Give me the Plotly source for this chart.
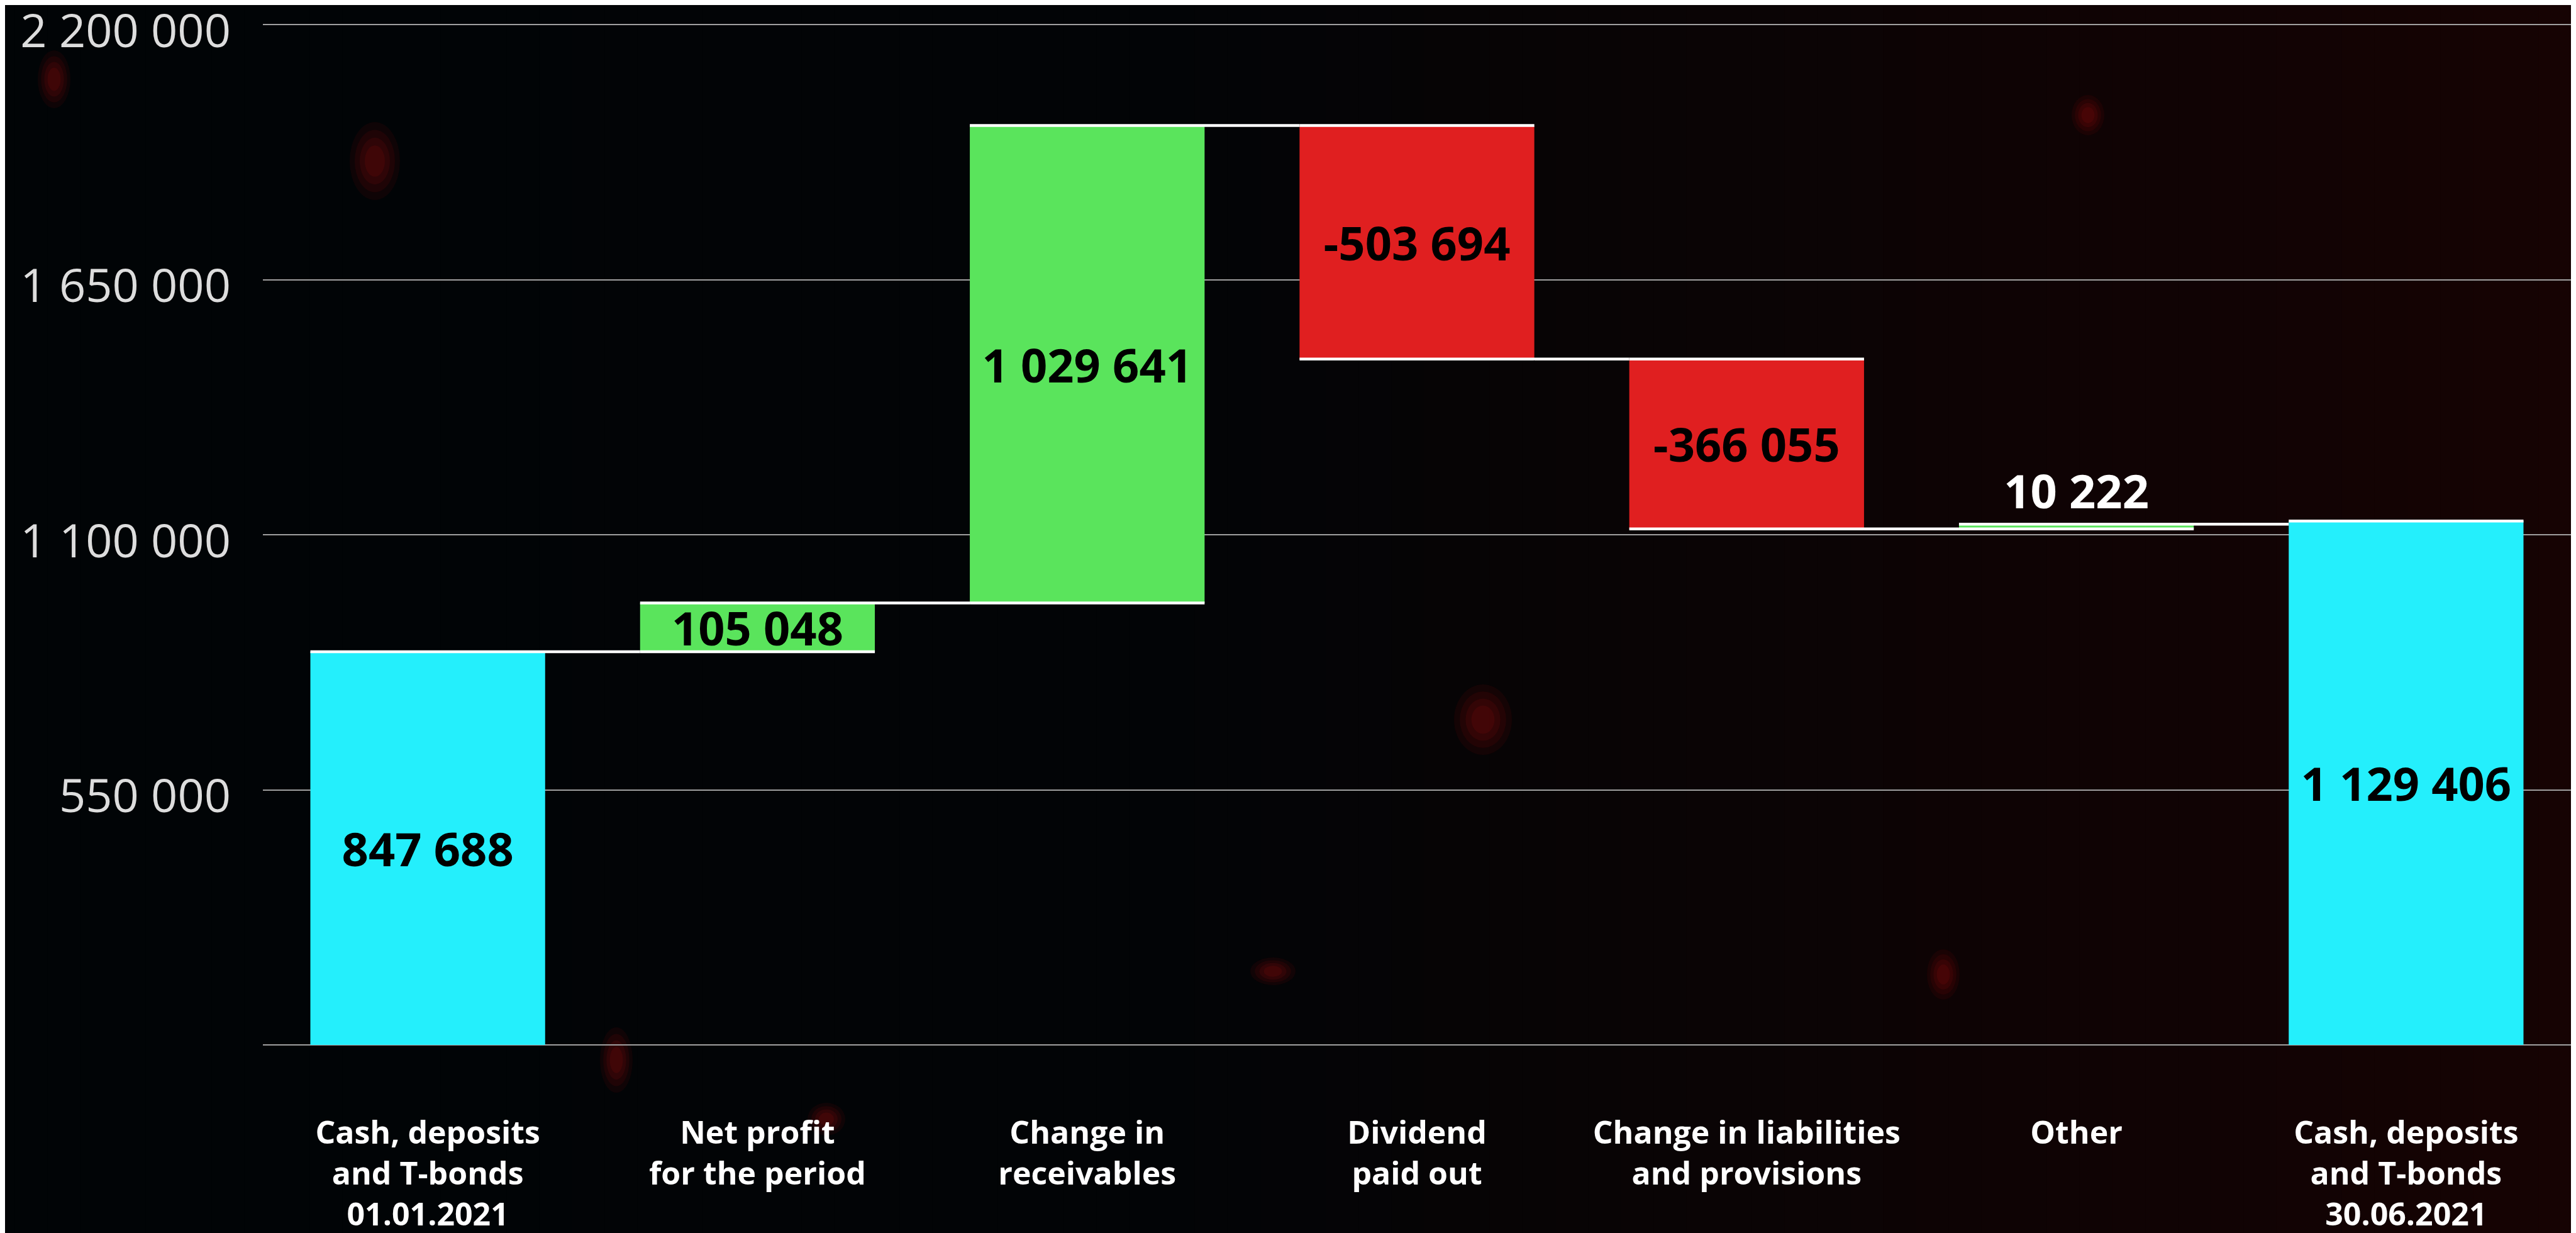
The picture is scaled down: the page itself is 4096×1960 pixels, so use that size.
import plotly.graph_objects as go

# ---- data ----
categories = [
    "Cash, deposits<br>and T-bonds<br>01.01.2021",
    "Net profit<br>for the period",
    "Change in<br>receivables",
    "Dividend<br>paid out",
    "Change in liabilities<br>and provisions",
    "Other",
    "Cash, deposits<br>and T-bonds<br>30.06.2021",
]
values = [847688, 105048, 1029641, -503694, -366055, 10222, 1129406]
measures = ["absolute", "relative", "relative", "relative", "relative", "relative", "absolute"]
text_positions = ["inside", "inside", "inside", "inside", "inside", "outside", "inside"]
y_tickvals = [0, 550000, 1100000, 1650000, 2200000]
y_ticktext = ["", "550 000", "1 100 000", "1 650 000", "2 200 000"]

labels = [f"{v:,}".replace(",", " ") for v in values]

W, H = 4096, 1960
ML, MR, MT, MB = 410, 16, 29, 305
pw, ph = W - ML - MR, H - MT - MB

fig = go.Figure()

fig.add_trace(go.Waterfall(
    x=categories,
    y=values,
    measure=measures,
    text=labels,
    textposition=text_positions,
    insidetextanchor="middle",
    insidetextfont=dict(family="Open Sans", size=74, color="#000000", weight=700),
    outsidetextfont=dict(family="Open Sans", size=74, color="#ffffff", weight=700),
    textfont=dict(family="Open Sans", size=74, weight=700),
    constraintext="none",
    cliponaxis=False,
    increasing=dict(marker=dict(color="#5ae45c", line=dict(width=0))),
    decreasing=dict(marker=dict(color="#e01f20", line=dict(width=0))),
    totals=dict(marker=dict(color="#24effc", line=dict(width=0))),
    connector=dict(mode="spanning", line=dict(color="#ffffff", width=4.5)),
    hoverinfo="skip",
    showlegend=False,
))

# ---- background decoration: gradient strips + faint bokeh blobs ----
shapes = []
n = 80
x0p, x1p = -ML / pw - 0.01, 1 + MR / pw + 0.01
y0p, y1p = -MB / ph - 0.01, 1 + MT / ph + 0.01
def lerp(a, b, t):
    return tuple(int(round(a[i] + (b[i] - a[i]) * t)) for i in range(3))
c_left, c_mid, c_right = (1, 4, 6), (2, 4, 6), (22, 3, 3)
for i in range(n):
    t = i / (n - 1)
    if t < 0.45:
        c = lerp(c_left, c_mid, t / 0.45)
    else:
        c = lerp(c_mid, c_right, (t - 0.45) / 0.55)
    xa = x0p + (x1p - x0p) * i / n
    xb = x0p + (x1p - x0p) * (i + 1) / n + 0.002
    shapes.append(dict(type="rect", xref="paper", yref="paper", x0=xa, x1=xb,
                       y0=y0p, y1=y1p, fillcolor="rgb(%d,%d,%d)" % c,
                       line=dict(width=0), layer="below"))

# blobs given in window pixels (cx, cy, rx, ry)
blobs = [(588, 248, 40, 62), (2350, 1136, 46, 56), (3312, 175, 26, 32),
         (78, 118, 26, 46), (972, 1677, 26, 52), (2016, 1536, 36, 22),
         (3082, 1541, 26, 40), (1306, 1771, 30, 26)]
def px2paper(x, y):
    return (x - ML) / pw, 1 - (y - MT) / ph
for (cx, cy, rx, ry) in blobs:
    for k, (f, a) in enumerate([(1.0, 0.10), (0.8, 0.12), (0.6, 0.14), (0.4, 0.16)]):
        xa, ya = px2paper(cx - rx * f, cy + ry * f)
        xb, yb = px2paper(cx + rx * f, cy - ry * f)
        shapes.append(dict(type="circle", xref="paper", yref="paper",
                           x0=xa, x1=xb, y0=ya, y1=yb,
                           fillcolor="rgba(150,12,12,%.2f)" % a,
                           line=dict(width=0), layer="below"))

fig.update_layout(
    width=W, height=H,
    margin=dict(l=ML, r=MR, t=MT, b=MB, pad=0, autoexpand=False),
    paper_bgcolor="#020406",
    plot_bgcolor="rgba(0,0,0,0)",
    shapes=shapes,
    waterfallgap=0.288,
    uniformtext=dict(minsize=74, mode="show"),
    xaxis=dict(
        type="category",
        automargin=False,
        showgrid=False, zeroline=False, showline=False, ticks="",
        tickfont=dict(family="Open Sans", size=50, color="#ffffff", weight=700),
        ticklabelstandoff=104,
        range=[-0.5, 6.5],
    ),
    yaxis=dict(
        automargin=False,
        range=[-2700, 2202700],
        tickvals=y_tickvals, ticktext=y_ticktext,
        showgrid=True, gridcolor="#a0a0a0", gridwidth=2,
        zeroline=False, showline=False, ticks="",
        tickfont=dict(family="Open Sans", size=74, color="#dddddd", weight=400),
        ticklabelstandoff=50,
        ticklabelshift=10,
        ticklabeloverflow="allow",
    ),
    font=dict(family="Open Sans"),
)

fig.write_html("out.html")
